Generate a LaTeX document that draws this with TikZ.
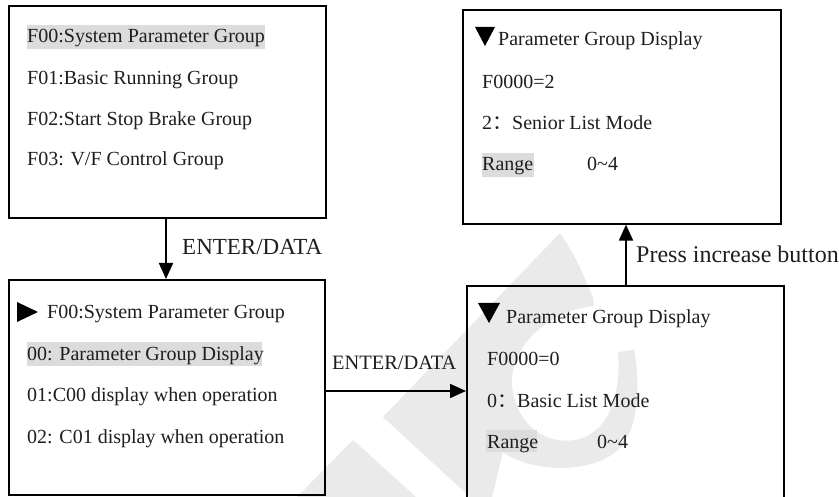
\documentclass[tikz,border=0pt]{standalone}
\usepackage{fontspec}
\setmainfont{Liberation Serif}
\newfontfamily\cjk{Noto Sans CJK SC}
\usetikzlibrary{arrows.meta,calc}
\definecolor{hl}{HTML}{DCDCDC}
\definecolor{wm}{HTML}{EAEAEA}
\definecolor{ink}{HTML}{1E1E1E}
\tikzset{
  box/.style={draw=black, line width=1.6pt, anchor=north west, inner sep=0pt},
  txt/.style={anchor=base west, inner sep=0pt, text=ink, font=\fontsize{20}{24}\selectfont},
  lbl/.style={anchor=base west, inner sep=0pt, text=ink, font=\fontsize{23}{27}\selectfont},
  lblp/.style={anchor=base west, inner sep=0pt, text=ink, font=\fontsize{24}{28}\selectfont},
  lbls/.style={anchor=base west, inner sep=0pt, text=ink, font=\fontsize{20.4}{24}\selectfont},
  flow/.style={line width=1.8pt, -{Triangle[length=16pt,width=14pt]}},
  hlbox/.style={fill=hl, draw=none},
  pointer/.style={fill=black, draw=none}
}
\begin{document}
\begin{tikzpicture}[x=1pt,y=-1pt]
\useasboundingbox (0,0) rectangle (839,497);
\fill[white] (0,0) rectangle (839,497);
% watermark (faint logo)
\fill[wm] (353,440) -- (297,497) -- (416,497) -- cycle;
\fill[wm] (560,233) -- (383,417) -- (470,497) -- (492,497) -- (503,452)
  .. controls (530,472) and (590,475) .. (618,450)
  .. controls (640,430) and (640,380) .. (634,350)
  -- (618,352)
  .. controls (622,400) and (605,435) .. (575,440)
  .. controls (540,445) and (515,420) .. (512,385)
  .. controls (510,345) and (550,310) .. (594,306)
  -- (593,298)
  .. controls (582,270) and (572,250) .. (560,233) -- cycle;
% boxes
\node[box, minimum width=317pt, minimum height=212pt] (b1) at (8,5) {};
\node[box, minimum width=316pt, minimum height=215pt] (b2) at (8,279) {};
\node[box, minimum width=318pt, minimum height=214pt] (b4) at (462,9) {};
\begin{scope}
\clip (0,0) rectangle (839,497);
\node[box, minimum width=317pt, minimum height=230pt] (b3) at (466,285) {};
\end{scope}
% box 1
\fill[hlbox] (27,25) rectangle (265,49);
\node[txt] (t11) at (27,43) {F00:System Parameter Group};
\node[txt] (t12) at (27,85) {F01:Basic Running Group};
\node[txt] (t13) at (27,126) {F02:Start Stop Brake Group};
\node[txt] (t14) at (27,166) {F03: V/F Control Group};
% box 2
\fill[pointer] (17,302) -- (38,312) -- (17,322) -- cycle;
\node[txt] (t21) at (47,319) {F00:System Parameter Group};
\fill[hlbox] (27,342) rectangle (262,366);
\node[txt] (t22) at (27,360) {00: Parameter Group Display};
\node[txt] (t23) at (27,402) {01:C00 display when operation};
\node[txt] (t24) at (27,443) {02: C01 display when operation};
% box 3
\fill[pointer] (478,303) -- (500,303) -- (489,323) -- cycle;
\node[txt] (t31) at (506,324) {Parameter Group Display};
\node[txt] (t32) at (487,366) {F0000=0};
\node[txt] (t33) at (487,407) {0{\cjk ：}Basic List Mode};
\fill[hlbox] (486,430) rectangle (537,452);
\node[txt] (t34) at (487,448) {Range};
\node[txt] (t35) at (597,448) {0\char"007E 4};
% box 4
\fill[pointer] (475,27) -- (495,27) -- (485,46) -- cycle;
\node[txt] (t41) at (498,46) {Parameter Group Display};
\node[txt] (t42) at (482,89) {F0000=2};
\node[txt] (t43) at (482,130) {2{\cjk ：}Senior List Mode};
\fill[hlbox] (482,153) rectangle (534,177);
\node[txt] (t44) at (482,171) {Range};
\node[txt] (t45) at (587,171) {0\char"007E 4};
% connectors
\draw[flow] (b1.south -| 166,0) -- (b2.north -| 166,0);
\node[lbl] (l1) at (182,255) {ENTER/DATA};
\draw[flow] (b2.east |- 0,391) -- (b3.west |- 0,391);
\node[lbls] (l2) at (332,370) {ENTER/DATA};
\draw[flow] (b3.north -| 626,0) -- (b4.south -| 626,0);
\node[lblp] (l3) at (636,263) {Press increase button};
\end{tikzpicture}
\end{document}
